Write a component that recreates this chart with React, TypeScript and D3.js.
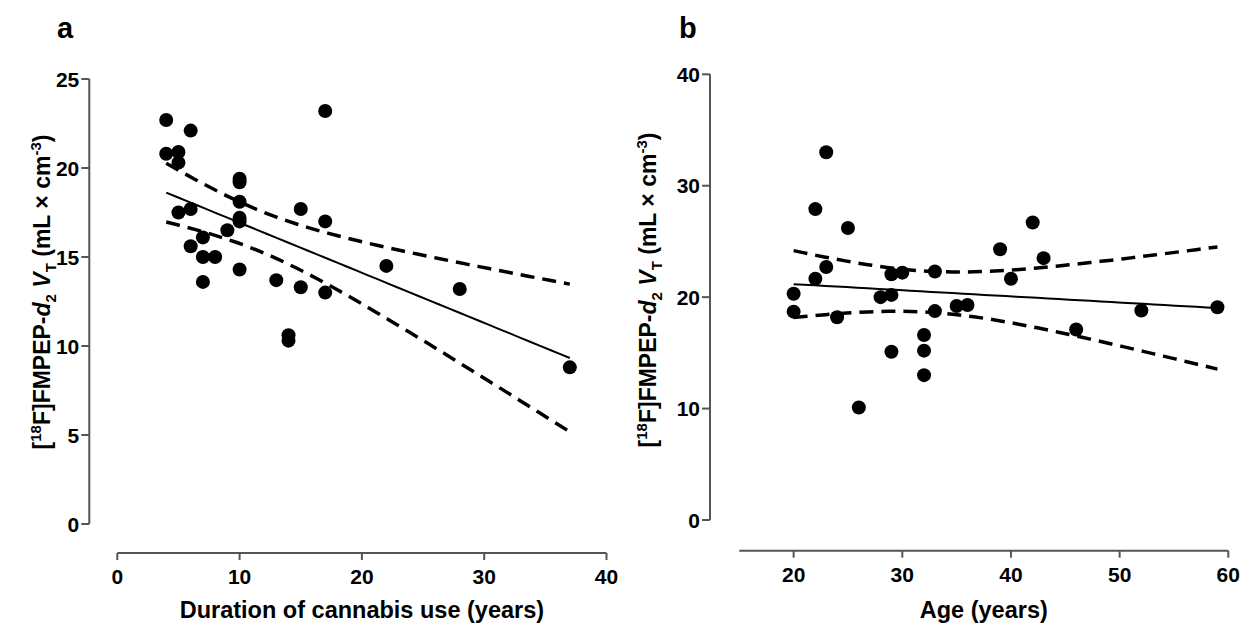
import React from "react";
import { scaleLinear, line, range, extent } from "d3";

// panel a: duration of cannabis use (years) vs VT
const durationYears = [4, 4, 5, 5, 6, 5, 6, 6, 7, 7, 8, 7, 9, 10, 10, 10, 10, 10, 10, 13, 14, 14, 15, 15, 17, 17, 17, 22, 28, 37];
const durationVT = [22.7, 20.8, 20.9, 20.3, 22.1, 17.5, 17.7, 15.6, 16.1, 15.0, 15.0, 13.6, 16.5, 19.4, 19.2, 18.1, 17.2, 17.0, 14.3, 13.7, 10.6, 10.3, 17.7, 13.3, 23.2, 17.0, 13.0, 14.5, 13.2, 8.8];
const durationXTicks = [0, 10, 20, 30, 40];
const durationYTicks = [0, 5, 10, 15, 20, 25];

// panel b: age (years) vs VT
const ageYears = [20, 20, 22, 22, 23, 23, 24, 25, 26, 28, 29, 29, 29, 30, 32, 32, 32, 33, 33, 35, 36, 39, 40, 42, 43, 46, 52, 59];
const ageVT = [20.3, 18.7, 27.9, 21.65, 33.0, 22.7, 18.2, 26.2, 10.1, 20.0, 22.05, 20.2, 15.1, 22.2, 16.6, 15.2, 13.0, 22.3, 18.75, 19.2, 19.3, 24.3, 21.65, 26.7, 23.5, 17.1, 18.8, 19.1];
const ageXTicks = [20, 30, 40, 50, 60];
const ageYTicks = [0, 10, 20, 30, 40];

const FONT = "'Liberation Sans', Arial, Helvetica, sans-serif";
const AXIS = "#555";

// least squares fit + 95% confidence band of the mean
function fitLine(xs: number[], ys: number[], t: number) {
  const n = xs.length;
  const mx = xs.reduce((a, b) => a + b, 0) / n;
  const my = ys.reduce((a, b) => a + b, 0) / n;
  let sxx = 0, sxy = 0;
  xs.forEach((x, i) => {
    sxx += (x - mx) ** 2;
    sxy += (x - mx) * (ys[i] - my);
  });
  const b = sxy / sxx;
  const a = my - b * mx;
  let sse = 0;
  xs.forEach((x, i) => (sse += (ys[i] - a - b * x) ** 2));
  const s = Math.sqrt(sse / (n - 2));
  const [x0, x1] = extent(xs) as [number, number];
  return range(0, 41).map(k => {
    const x = x0 + ((x1 - x0) * k) / 40;
    const yhat = a + b * x;
    const h = t * s * Math.sqrt(1 / n + (x - mx) ** 2 / sxx);
    return { x, yhat, lo: yhat - h, hi: yhat + h };
  });
}

type PanelProps = {
  letter: string;
  letterX: number;
  xs: number[];
  ys: number[];
  t: number;
  xDomain: [number, number];
  xRange: [number, number];
  xAxisY: number;
  xTicks: number[];
  yDomain: [number, number];
  yRange: [number, number];
  yAxisX: number;
  yTicks: number[];
  xTitle: string;
  yTitleX: number;
  yTitleY: number;
};

const Panel = (p: PanelProps) => {
  const x = scaleLinear().domain(p.xDomain).range(p.xRange);
  const y = scaleLinear().domain(p.yDomain).range(p.yRange);
  const fit = fitLine(p.xs, p.ys, p.t);
  const mid = line<any>().x(d => x(d.x)).y(d => y(d.yhat));
  const lo = line<any>().x(d => x(d.x)).y(d => y(d.lo));
  const hi = line<any>().x(d => x(d.x)).y(d => y(d.hi));
  const [xa, xb] = p.xRange;

  return (
    <g fontFamily={FONT} fontWeight="bold" fill="#000">
      <text x={p.letterX} y={38} fontSize={29}>{p.letter}</text>

      {/* y axis */}
      <line x1={p.yAxisX} x2={p.yAxisX} y1={y(p.yDomain[1])} y2={y(p.yDomain[0])} stroke={AXIS} strokeWidth={2} />
      {p.yTicks.map(v => (
        <g key={v}>
          <line x1={p.yAxisX - 8} x2={p.yAxisX} y1={y(v)} y2={y(v)} stroke={AXIS} strokeWidth={2} />
          <text x={p.yAxisX - 10} y={y(v)} dy="0.36em" textAnchor="end" fontSize={21}>{v}</text>
        </g>
      ))}

      {/* x axis */}
      <line x1={xa} x2={xb} y1={p.xAxisY} y2={p.xAxisY} stroke={AXIS} strokeWidth={2} />
      {p.xTicks.map(v => (
        <g key={v}>
          <line x1={x(v)} x2={x(v)} y1={p.xAxisY} y2={p.xAxisY + 7} stroke={AXIS} strokeWidth={2} />
          <text x={x(v)} y={p.xAxisY + 31} textAnchor="middle" fontSize={21}>{v}</text>
        </g>
      ))}

      <text x={(xa + xb) / 2} y={618} textAnchor="middle" fontSize={23.5}>{p.xTitle}</text>

      <text transform={`translate(${p.yTitleX},${p.yTitleY}) rotate(-90)`} textAnchor="middle" fontSize={23}>
        <tspan>[</tspan>
        <tspan fontSize={15} dy={-9}>18</tspan>
        <tspan dy={9}>F]FMPEP-</tspan>
        <tspan fontStyle="italic">d</tspan>
        <tspan fontSize={15} dy={6}>2</tspan>
        <tspan dy={-6}> </tspan>
        <tspan fontStyle="italic">V</tspan>
        <tspan fontSize={15} dy={6}>T</tspan>
        <tspan dy={-6}> (mL × cm</tspan>
        <tspan fontSize={15} dy={-9}>-3</tspan>
        <tspan dy={9}>)</tspan>
      </text>

      {/* regression + 95% CI */}
      <path d={hi(fit) || ""} fill="none" stroke="#000" strokeWidth={3.5} strokeDasharray="14 8" />
      <path d={lo(fit) || ""} fill="none" stroke="#000" strokeWidth={3.5} strokeDasharray="14 8" />
      <path d={mid(fit) || ""} fill="none" stroke="#000" strokeWidth={2} />

      {p.xs.map((v, i) => (
        <circle key={i} cx={x(v)} cy={y(p.ys[i])} r={7} fill="#000" />
      ))}
    </g>
  );
};

export default function App() {
  return (
    <svg width={1252} height={632} style={{ position: "absolute", left: 0, top: 0, background: "#fff" }}>
      <Panel
        letter="a"
        letterX={57}
        xs={durationYears}
        ys={durationVT}
        t={2.048}
        xDomain={[0, 40]}
        xRange={[117.3, 606.5]}
        xAxisY={553}
        xTicks={durationXTicks}
        yDomain={[0, 25]}
        yRange={[524, 79]}
        yAxisX={89.3}
        yTicks={durationYTicks}
        xTitle="Duration of cannabis use (years)"
        yTitleX={50}
        yTitleY={292}
      />
      <Panel
        letter="b"
        letterX={679}
        xs={ageYears}
        ys={ageVT}
        t={2.056}
        xDomain={[15, 60]}
        xRange={[739.3, 1228.3]}
        xAxisY={550.7}
        xTicks={ageXTicks}
        yDomain={[0, 40]}
        yRange={[520, 74.3]}
        yAxisX={710}
        yTicks={ageYTicks}
        xTitle="Age (years)"
        yTitleX={656}
        yTitleY={290}
      />
    </svg>
  );
}
